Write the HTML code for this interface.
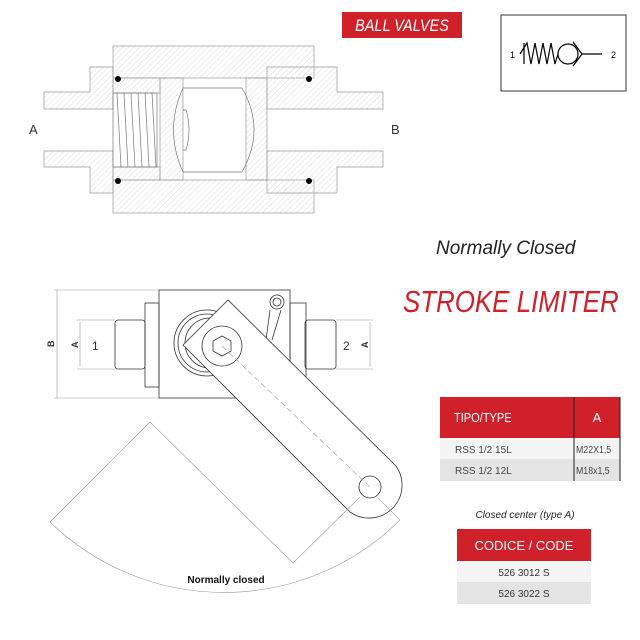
<!DOCTYPE html>
<html><head><style>body{margin:0;background:#fff}svg{display:block}</style></head><body>
<svg width="640" height="640" viewBox="0 0 640 640" xmlns="http://www.w3.org/2000/svg" font-family="Liberation Sans, sans-serif">
<defs><pattern id="h" width="4" height="4" patternUnits="userSpaceOnUse" patternTransform="rotate(45)"><line x1="0" y1="0" x2="0" y2="4" stroke="#ddd" stroke-width="1"/></pattern></defs>
<g stroke="#999" stroke-width="0.7" fill="url(#h)">
<rect x="113" y="46" width="201" height="32"/>
<rect x="113" y="180" width="201" height="33"/>
<path d="M44,92 L90,92 L90,67 L113,67 L113,109 L44,109 Z"/>
<path d="M44,167 L90,167 L90,193 L113,193 L113,151 L44,151 Z"/>
<path d="M383,92 L337,92 L337,67 L267,67 L267,109 L383,109 Z"/>
<path d="M383,167 L337,167 L337,193 L267,193 L267,151 L383,151 Z"/>
<rect x="160" y="78" width="23" height="102"/>
<rect x="246" y="78" width="21" height="102"/>
<rect x="113" y="78" width="47" height="15"/>
<rect x="113" y="167" width="47" height="13"/>
</g>
<g stroke="#777" stroke-width="0.7" fill="none">
<rect x="113" y="93" width="44" height="74"/>
<path d="M117,93 L121,167 M124,93 L128,167 M131,93 L135,167 M138,93 L142,167 M145,93 L149,167 M152,93 L156,167"/>
<path d="M183,88 Q164,130 183,172"/>
<path d="M183,110 L186,110 Q192,130 186,150 L183,150"/>
<path d="M242,88 Q266,130 242,172"/>
<line x1="183" y1="88" x2="242" y2="88"/><line x1="183" y1="172" x2="242" y2="172"/>
</g>
<g fill="#000"><circle cx="118" cy="79" r="3"/><circle cx="118" cy="181" r="3"/><circle cx="309" cy="79" r="3"/><circle cx="309" cy="181" r="3"/></g>
<text x="29" y="134" font-size="13" fill="#333">A</text>
<text x="391" y="134" font-size="13" fill="#333">B</text>
<rect x="342" y="12" width="120" height="26" fill="#d0202a"/>
<text x="402" y="31" font-size="17" font-style="italic" fill="#fff" text-anchor="middle" transform="translate(402,0) scale(0.85,1) translate(-402,0)">BALL VALVES</text>
<rect x="501" y="15" width="125" height="76" fill="none" stroke="#333" stroke-width="1"/>
<text x="510" y="58" font-size="9">1</text><text x="611" y="58" font-size="9">2</text>
<g stroke="#000" stroke-width="1.2" fill="none">
<line x1="524" y1="43" x2="524" y2="64"/>
<path d="M520,54 L527,43 L531,64 L535,43 L539,64 L543,43 L547,64 L551,43 L555,64 L558,54"/>
<circle cx="568" cy="54" r="10"/>
<path d="M573,42 L582,54 L573,66"/>
<line x1="582" y1="54" x2="602" y2="54"/>
</g>
<text x="436" y="254" font-size="19" font-style="italic" fill="#222">Normally Closed</text>
<text x="403" y="312" font-size="31" font-style="italic" fill="#d0202a" transform="translate(403,0) scale(0.835,1) translate(-403,0)">STROKE LIMITER</text>
<g stroke="#333" stroke-width="0.8" fill="none">
<rect x="159" y="290" width="131" height="108" fill="#fff"/>
<rect x="145" y="303" width="14" height="84"/>
<rect x="115" y="320" width="30" height="49" rx="3"/>
<rect x="290" y="303" width="16" height="84"/>
<rect x="305" y="320" width="31" height="49" rx="3"/>
<circle cx="207" cy="343" r="33"/><circle cx="207" cy="343" r="29"/><circle cx="210" cy="343" r="25"/>
<circle cx="277" cy="302" r="7"/><circle cx="277" cy="302" r="4"/>
<path d="M270,310 L266,340 M281,310 L272,340"/>
<path d="M228,300 L183,345 L350,512 A33 33 0 0 0 396,466 Z" fill="#fff"/>
<circle cx="222" cy="346" r="20"/>
<path d="M222,336 L231,341 L231,351 L222,356 L213,351 L213,341 Z"/>
<circle cx="370" cy="487" r="11"/>
</g>
<g stroke="#999" stroke-width="0.6" fill="none">
<line x1="222" y1="346" x2="370" y2="487" stroke-dasharray="6,3"/>
<path d="M50,522 A250 250 0 0 0 400,520"/>
<line x1="50" y1="522" x2="150" y2="422"/>
<line x1="150" y1="422" x2="293" y2="563"/>
<line x1="293" y1="563" x2="360" y2="497"/>
<line x1="400" y1="520" x2="378" y2="498"/>
<line x1="57" y1="290" x2="57" y2="398"/><line x1="54" y1="290" x2="159" y2="290"/><line x1="54" y1="398" x2="159" y2="398"/>
<line x1="80" y1="322" x2="80" y2="367"/><line x1="77" y1="320" x2="115" y2="320"/><line x1="77" y1="369" x2="115" y2="369"/>
<line x1="370" y1="322" x2="370" y2="367"/><line x1="336" y1="320" x2="373" y2="320"/><line x1="336" y1="369" x2="373" y2="369"/>
</g>
<text x="92" y="350" font-size="12" fill="#333">1</text>
<text x="343" y="350" font-size="12" fill="#333">2</text>
<text transform="translate(54,347) rotate(-90)" font-size="9" font-weight="bold" fill="#333">B</text>
<text transform="translate(78,348) rotate(-90)" font-size="9" font-weight="bold" fill="#333">A</text>
<text transform="translate(368,348) rotate(-90)" font-size="9" font-weight="bold" fill="#333">A</text>
<text x="226" y="583" font-size="10" font-weight="bold" text-anchor="middle" fill="#111">Normally closed</text>
<rect x="440" y="397" width="180" height="41" fill="#d0202a"/>
<rect x="440" y="438" width="180" height="21" fill="#f4f4f4"/>
<rect x="440" y="459" width="180" height="22" fill="#e4e4e4"/>
<line x1="574" y1="397" x2="574" y2="481" stroke="#222"/>
<line x1="620" y1="397" x2="620" y2="481" stroke="#222"/>
<text x="454" y="422" font-size="13" fill="#fff" transform="translate(454,0) scale(0.85,1) translate(-454,0)">TIPO/TYPE</text>
<text x="597" y="422" font-size="13" fill="#fff" text-anchor="middle">A</text>
<text x="455" y="453" font-size="10" fill="#444">RSS 1/2 15L</text>
<text x="455" y="474" font-size="10" fill="#444">RSS 1/2 12L</text>
<text x="576" y="453" font-size="10" fill="#444" transform="translate(576,0) scale(0.88,1) translate(-576,0)">M22X1,5</text>
<text x="576" y="474" font-size="10" fill="#444" transform="translate(576,0) scale(0.88,1) translate(-576,0)">M18x1,5</text>
<text x="525" y="518" font-size="10" font-style="italic" fill="#222" text-anchor="middle">Closed center (type A)</text>
<rect x="457" y="529" width="134" height="32" fill="#d0202a"/>
<rect x="457" y="561" width="134" height="21" fill="#f4f4f4"/>
<rect x="457" y="582" width="134" height="22" fill="#e4e4e4"/>
<text x="524" y="550" font-size="13" fill="#fff" text-anchor="middle">CODICE / CODE</text>
<text x="524" y="576" font-size="10" fill="#333" text-anchor="middle">526 3012 S</text>
<text x="524" y="597" font-size="10" fill="#333" text-anchor="middle">526 3022 S</text>
</svg>
</body></html>
